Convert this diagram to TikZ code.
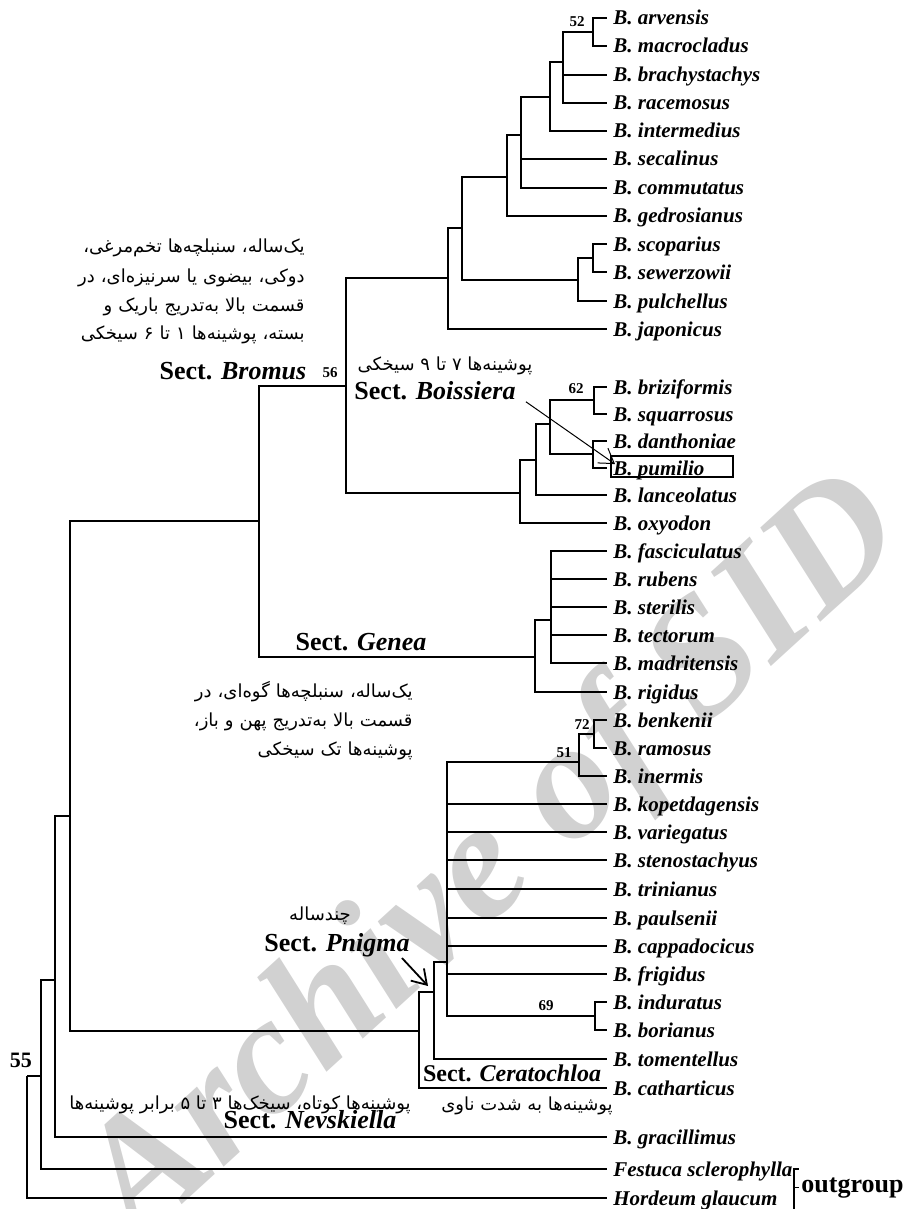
\documentclass[tikz,border=0pt]{standalone}
\usepackage{fontspec}
\setmainfont{Liberation Serif}
\newfontfamily\farsi[Script=Arabic]{DejaVu Sans}
\TeXXeTstate=1
\usetikzlibrary{arrows.meta}
\newcommand{\LeafFont}{\fontsize{10.5}{12}\selectfont\bfseries\itshape}
\newcommand{\SectFont}{\fontsize{13}{15}\selectfont\bfseries}
\newcommand{\BootFont}{\fontsize{7.5}{9}\selectfont\bfseries}
\newcommand{\FaFont}{\farsi\fontsize{9}{14.5}\selectfont}

\begin{document}
\begin{tikzpicture}[x=0.5pt, y=-0.5pt,
    branch/.style={line width=1.2pt},
    leaf/.style={anchor=west, inner xsep=3pt, inner ysep=0pt, text height=7pt, text depth=0pt, font=\LeafFont},
    boot/.style={inner sep=0pt, font=\BootFont},
    sect/.style={anchor=base, inner sep=1pt, font=\SectFont},
    note/.style={inner sep=0pt, font=\FaFont},
    pointer/.style={-{Straight Barb[length=7pt,width=9pt]}}]
\useasboundingbox (0,0) rectangle (904,1209);
% watermark
\node[rotate=42.4, text=black!18, font=\fontsize{84}{84}\selectfont\bfseries\itshape] (mark) at (497,862) {Archive of SID};

% leaves
\foreach \nm/\yy/\spc in {arv/18/arvensis, mac/46/macrocladus, bra/75/brachystachys, rac/103/racemosus,
    int/131/intermedius, sec/159/secalinus, com/188/commutatus, ged/216/gedrosianus,
    sco/244/scoparius, sew/272/sewerzowii, pul/301/pulchellus, jap/329/japonicus,
    bri/387/briziformis, squ/414/squarrosus, dan/441/danthoniae, pum/468/pumilio,
    lan/495/lanceolatus, oxy/523/oxyodon, fas/551/fasciculatus, rub/579/rubens,
    ste/607/sterilis, tec/635/tectorum, mad/663/madritensis, rig/692/rigidus,
    ben/720/benkenii, ram/748/ramosus, ine/776/inermis, kop/804/kopetdagensis,
    var/832/variegatus, stn/860/stenostachyus, tri/889/trinianus, pau/918/paulsenii,
    cap/946/cappadocicus, fri/974/frigidus, ind/1002/induratus, bor/1030/borianus,
    tom/1059/tomentellus, cat/1088/catharticus, gra/1137/gracillimus}
  \node[leaf] (\nm) at (607,\yy) {B. \spc};
\node[leaf] (fes) at (607,1169) {Festuca sclerophylla};
\node[leaf] (hor) at (607,1198) {Hordeum glaucum};

% internal nodes
\coordinate (n52) at (593,32);
\coordinate (nBra) at (563,62);
\coordinate (nInt) at (550,97);
\coordinate (nCom) at (521,135);
\coordinate (nGed) at (507,177);
\coordinate (nSco) at (593,258);
\coordinate (nPul) at (578,280);
\coordinate (nSca) at (462,228);
\coordinate (nJap) at (448,278);
\coordinate (nBro) at (346,386);
\coordinate (n62) at (594,400);
\coordinate (nDan) at (593,454);
\coordinate (nBri) at (550,424);
\coordinate (nLan) at (536,460);
\coordinate (nBoi) at (520,493);
\coordinate (nFas) at (551,620);
\coordinate (nGen) at (535,657);
\coordinate (nBG) at (259,521);
\coordinate (n72) at (594,734);
\coordinate (n51) at (579,762);
\coordinate (n69) at (595,1016);
\coordinate (nPni) at (447,962);
\coordinate (nTom) at (434,992);
\coordinate (nCer) at (419,1031);
\coordinate (nAnn) at (70,816);
\coordinate (nGra) at (55,980);
\coordinate (n55) at (41,1076);
\coordinate (nRoot) at (27,1076);

% branches
\foreach \p/\c in {n52/arv.west, n52/mac.west, nBra/n52, nBra/bra.west, nBra/rac.west,
    nInt/nBra, nInt/int.west, nCom/nInt, nCom/sec.west, nCom/com.west,
    nGed/nCom, nGed/ged.west, nSco/sco.west, nSco/sew.west, nPul/nSco, nPul/pul.west,
    nSca/nGed, nSca/nPul, nJap/nSca, nJap/jap.west, nBro/nJap, nBro/nBoi,
    nBoi/nLan, nBoi/oxy.west, nLan/nBri, nLan/lan.west, nBri/n62, nBri/nDan,
    n62/bri.west, n62/squ.west, nDan/dan.west, nDan/pum.west,
    nBG/nBro, nBG/nGen, nGen/nFas, nGen/rig.west,
    nFas/fas.west, nFas/rub.west, nFas/ste.west, nFas/tec.west, nFas/mad.west,
    nAnn/nBG, nAnn/nCer, nCer/nTom, nCer/cat.west, nTom/nPni, nTom/tom.west,
    nPni/n51, nPni/kop.west, nPni/var.west, nPni/stn.west, nPni/tri.west,
    nPni/pau.west, nPni/cap.west, nPni/fri.west, nPni/n69,
    n51/n72, n51/ine.west, n72/ben.west, n72/ram.west, n69/ind.west, n69/bor.west,
    nGra/nAnn, nGra/gra.west, n55/nGra, n55/fes.west, nRoot/n55, nRoot/hor.west}
  \draw[branch] (\p) |- (\c);

% bootstrap values
\node[boot] (b52) at (577,22) {52};
\node[boot] (b56) at (330,373) {56};
\node[boot] (b62) at (576,389) {62};
\node[boot] (b72) at (582,725) {72};
\node[boot] (b51) at (564,753) {51};
\node[boot] (b69) at (546,1006) {69};
\node[boot, font=\fontsize{11}{13}\selectfont\bfseries] (b55) at (21,1060) {55};

% sections
\node[note, anchor=base east, text width=116pt, align=right] (broNote) at (305,253) {%
  \beginR یک^^^^200cساله، سنبلچه^^^^200cها تخم^^^^200cمرغی،\endR\\
  \beginR دوکی، بیضوی یا سرنیزه^^^^200cای، در\endR\\
  \beginR قسمت بالا به^^^^200cتدریج باریک و\endR\\
  \beginR بسته، پوشینه^^^^200cها ۱ تا ۶ سیخکی\endR};
\node[sect] (bro) at (233,379) {Sect. \textit{Bromus}};

\node[note, anchor=base] (boiNote) at (445,370) {\beginR پوشینه^^^^200cها ۷ تا ۹ سیخکی\endR};
\node[sect] (boi) at (435,399) {Sect. \textit{Boissiera}};
\node[draw, line width=0.8pt, minimum width=61pt, minimum height=10.5pt, inner sep=0pt, anchor=west] (pumBox) at (610,466.5) {};
\draw[pointer, line width=0.5pt] ([xshift=4pt]boi.south east) -- ([xshift=2.5pt,yshift=1.2pt]pumBox.west);

\node[sect] (gen) at (361,650) {Sect. \textit{Genea}};
\node[note, anchor=base east, text width=116.5pt, align=right] (genNote) at (413,697) {%
  \beginR یک^^^^200cساله، سنبلچه^^^^200cها گوه^^^^200cای، در\endR\\
  \beginR قسمت بالا به^^^^200cتدریج پهن و باز،\endR\\
  \beginR پوشینه^^^^200cها تک سیخکی\endR};

\node[note, anchor=base] (pniNote) at (320,920) {\beginR چندساله\endR};
\node[sect] (pni) at (337,951) {Sect. \textit{Pnigma}};
\coordinate (pniTip) at (428,986);
\draw[pointer, line width=0.9pt] ([xshift=-5pt,yshift=-3.5pt]pni.base east) -- (pniTip);

\node[sect, font=\fontsize{12}{14}\selectfont\bfseries] (cer) at (512,1081) {Sect. \textit{Ceratochloa}};
\node[note, anchor=base] (cerNote) at (527,1110) {\beginR پوشینه^^^^200cها به شدت ناوی\endR};

\node[note, anchor=base] (nevNote) at (240,1109) {\beginR پوشینه^^^^200cها کوتاه، سیخک^^^^200cها ۳ تا ۵ برابر پوشینه^^^^200cها\endR};
\node[sect] (nev) at (310,1128) {Sect. \textit{Nevskiella}};

% outgroup
\node[sect, anchor=base west] (outg) at (799,1192) {outgroup};
\coordinate (brBot) at (794,1209);
\draw[line width=0.6pt] (fes.east) -| (brBot);
\draw[line width=0.6pt] (outg.west) -- (outg.west -| brBot);
\end{tikzpicture}
\end{document}
